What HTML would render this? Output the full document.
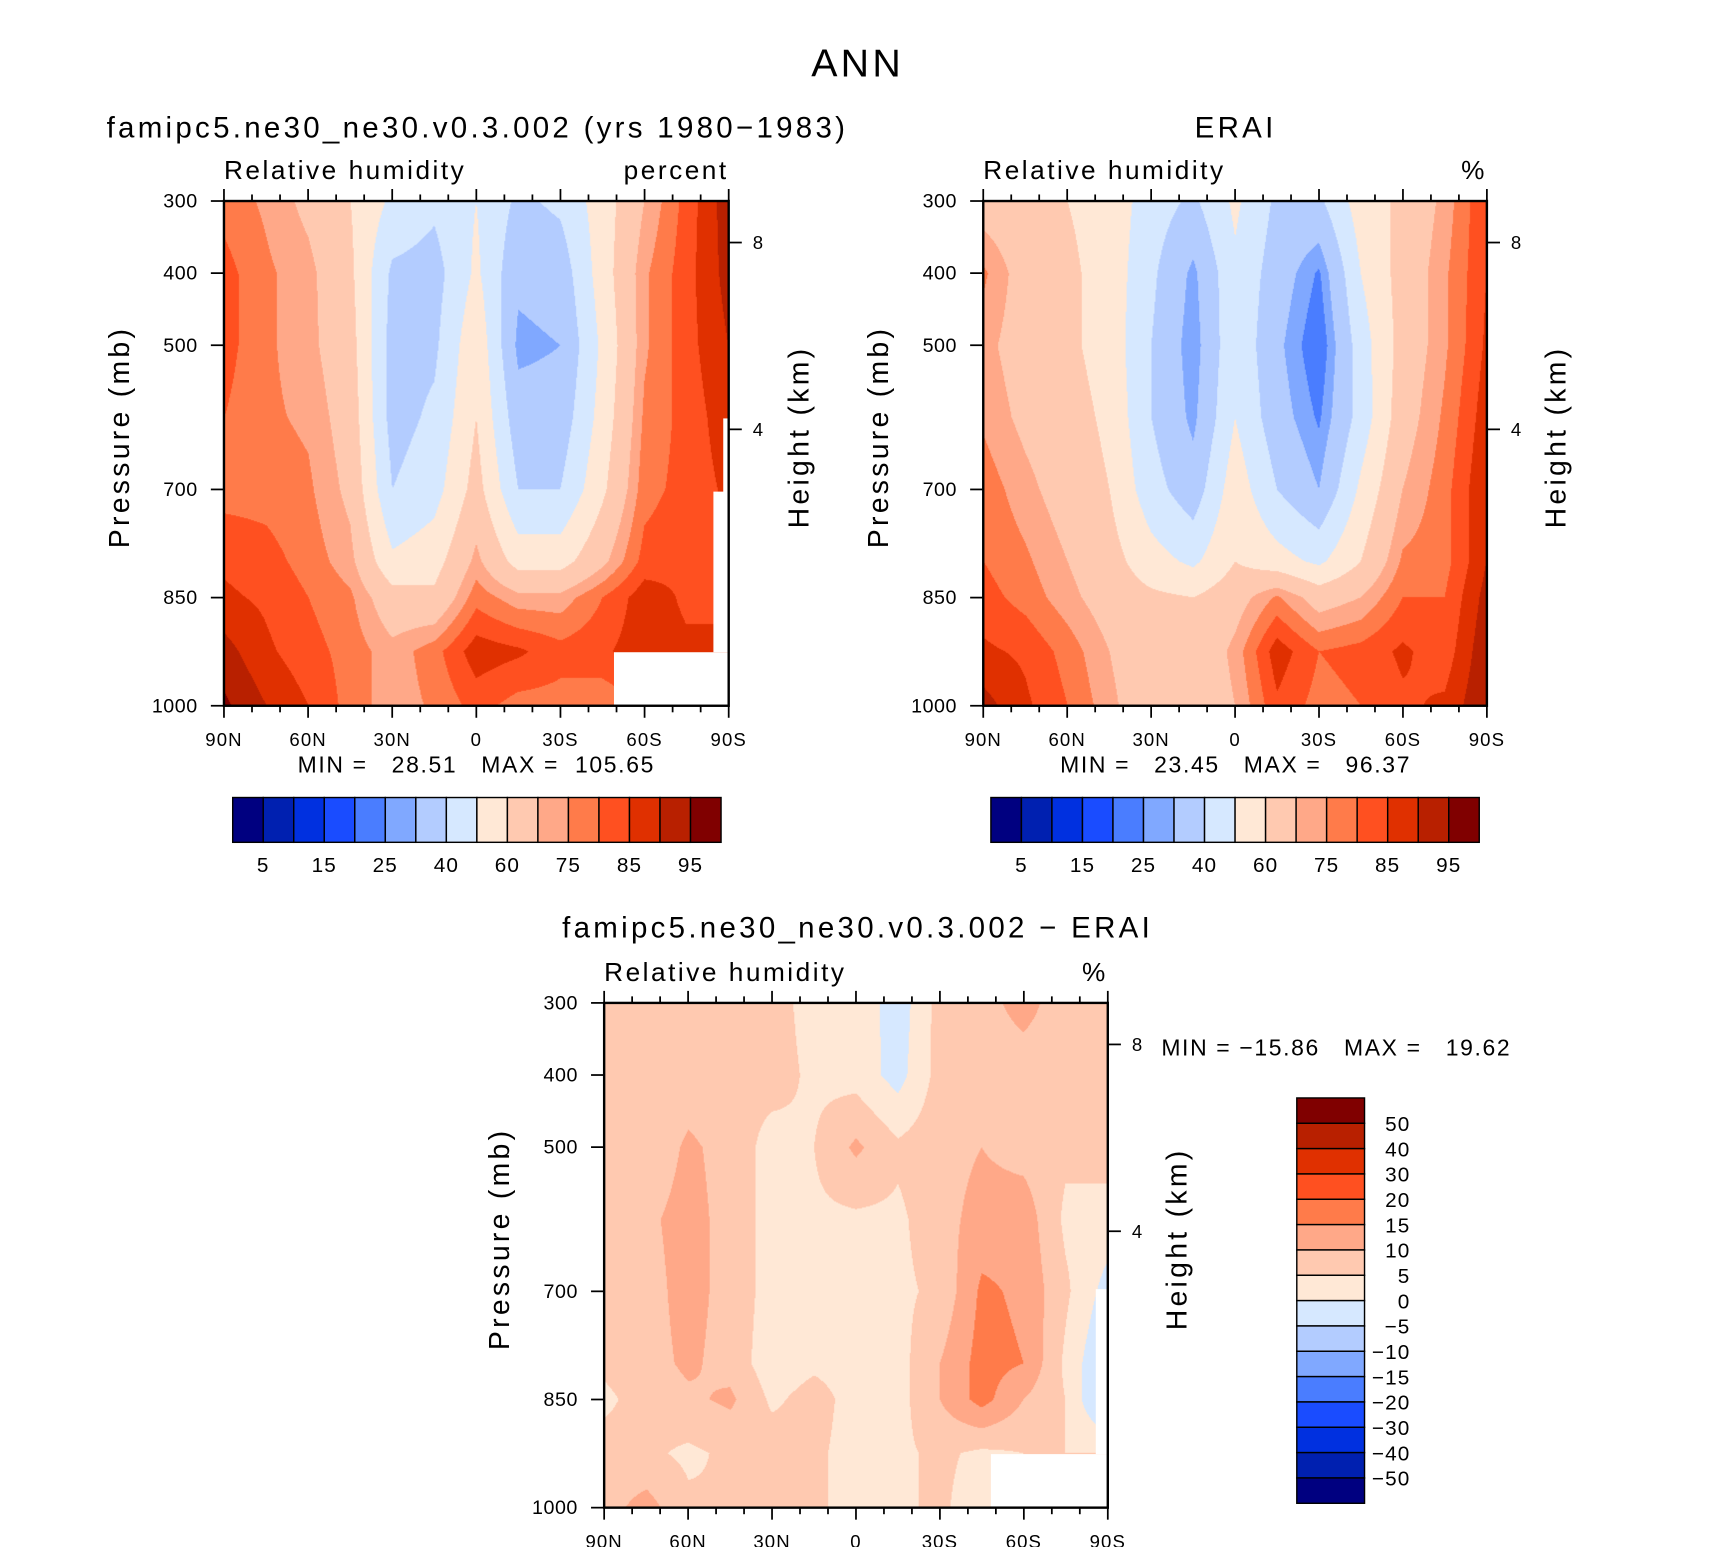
<!DOCTYPE html>
<html><head><meta charset="utf-8">
<style>
html,body{margin:0;padding:0;background:#fff;}
#wrap{position:absolute;left:0;top:0;width:1560px;height:1416px;transform:scale(1.0925,1.0925);transform-origin:0 0;}
canvas{position:absolute;}
svg{position:absolute;left:0;top:0;}
text{font-family:"Liberation Sans",sans-serif;fill:#000;white-space:pre;}
</style></head>
<body>
<div id="wrap">
<canvas id="c1" width="506" height="506" style="left:205px;top:184px;width:462px;height:462px"></canvas>
<canvas id="c2" width="506" height="506" style="left:900px;top:184px;width:461px;height:462px"></canvas>
<canvas id="c3" width="506" height="506" style="left:553px;top:918px;width:461px;height:462px"></canvas>
<svg id="s" width="1560" height="1416" viewBox="0 0 1560 1416"></svg>
</div>
<script>
const lats=[90,75,60,45,30,15,0,-15,-30,-45,-60,-75,-90];
const plevs=[300,400,500,600,700,800,850,925,1000];
const modelRH=[
[78,74,68,60,48,42,50,38,42,55,70,82,93],
[82,76,72,62,38,36,52,32,34,55,74,83,92],
[82,76,72,64,36,38,58,28,30,52,74,83,90],
[80,76,74,66,36,42,60,34,34,54,76,82,88],
[78,78,76,68,40,46,64,40,40,58,78,82,86],
[84,82,78,72,52,56,72,56,56,68,82,84,84],
[86,84,80,76,64,62,78,72,72,80,88,84,84],
[92,86,82,78,72,78,88,86,82,84,88,86,86],
[96,90,85,78,72,76,82,78,78,76,80,80,80]];
const eraiRH=[
[66,64,60,56,45,38,52,38,38,55,62,72,85],
[76,66,62,56,42,28,48,35,24,50,64,74,85],
[72,66,62,56,40,26,48,32,20,45,64,74,86],
[74,68,64,58,40,28,50,34,24,44,66,76,88],
[78,72,66,60,44,34,56,40,30,52,70,78,90],
[80,76,70,64,54,48,60,54,48,60,76,78,90],
[82,78,72,66,62,60,66,76,66,70,80,80,92],
[86,84,78,70,62,62,72,88,80,82,86,82,94],
[92,86,80,72,63,62,70,84,78,80,84,86,95]];
const diffRH=[
[7,7,7,5,7,3,4,-3,7,8,12,7,6],
[7,6,7,6,7,4,3,-2,7,7,7,7,7],
[8,6,11,8,3,5,11,6,8,10,8,6,7],
[7,9,12,8,3,4,4,4,8,12,13,4,3],
[6,8,12,8,3,3,3,4,6,16,14,6,-2],
[6,8,11,8,2,4,3,3,10,17,15,4,-6],
[4,7,9,11,4,7,3,3,10,17,10,5,-8],
[7,6,4,6,8,6,3,4,6,4,5,5,5],
[8,12,6,5,7,6,3,4,6,2,5,5,5]];
const rhLevels=[5,10,15,20,25,30,40,50,60,70,75,80,85,90,95];
const diffLevels=[-50,-40,-30,-20,-15,-10,-5,0,5,10,15,20,30,40,50];
const rhLabels=["5","15","25","40","60","75","85","95"];
const diffLabels=["−50","−40","−30","−20","−15","−10","−5","0","5","10","15","20","30","40","50"];
const palette=["#000080","#0020b0","#0030e0","#1a4cff","#4a7dff","#80a8ff","#b3ccff","#d6e8ff","#ffe8d6","#ffc9b0","#ffa888","#ff7b4a","#ff5020","#e03000","#b82000","#800000"];

function xScale(lat,x0,w){return x0+(90-lat)/180*w;}
function yScale(p,y0,h){return y0+(p-300)/700*h;}
function sample(grid,lat,p){
  let u=(90-lat)/15; let i=Math.min(Math.floor(u),lats.length-2); let fu=u-i;
  let j=0; while(j<plevs.length-2 && p>plevs[j+1]) j++;
  let fv=(p-plevs[j])/(plevs[j+1]-plevs[j]);
  const a=grid[j][i],b=grid[j][i+1],c=grid[j+1][i],d=grid[j+1][i+1];
  return (a*(1-fu)+b*fu)*(1-fv)+(c*(1-fu)+d*fu)*fv;
}
function bin(v,levs){let k=0;while(k<levs.length&&v>=levs[k])k++;return k;}
function drawField(id,grid,levs){
  const cv=document.getElementById(id),ctx=cv.getContext('2d');
  const W=cv.width,H=cv.height;const img=ctx.createImageData(W,H);
  const rgb=palette.map(h=>[parseInt(h.substr(1,2),16),parseInt(h.substr(3,2),16),parseInt(h.substr(5,2),16)]);
  for(let y=0;y<H;y++){const p=300+y/(H-1)*700;
    for(let x=0;x<W;x++){const lat=90-x/(W-1)*180;
      const c=rgb[bin(sample(grid,lat,p),levs)];const o=(y*W+x)*4;
      img.data[o]=c[0];img.data[o+1]=c[1];img.data[o+2]=c[2];img.data[o+3]=255;}}
  ctx.putImageData(img,0,0);
}
drawField('c1',modelRH,rhLevels);
drawField('c2',eraiRH,rhLevels);
drawField('c3',diffRH,diffLevels);

const NS="http://www.w3.org/2000/svg";const S=document.getElementById('s');
function el(tag,attrs,txt){const e=document.createElementNS(NS,tag);for(const k in attrs)e.setAttribute(k,attrs[k]);if(txt!==undefined)e.textContent=txt;S.appendChild(e);return e;}
function txt(x,y,s,size,anchor,name,rot,ls){const t=el('text',{x:x,y:y,'font-size':size,'text-anchor':anchor||'middle','letter-spacing':(ls!==undefined?ls:size*0.11)},s);
  if(rot)t.setAttribute('transform','rotate(-90 '+x+' '+y+')');
  
  return t;}

const xLabels=["90N","60N","30N","0","30S","60S","90S"];
const pLabels=[300,400,500,700,850,1000];
function panel(x0,y0,w,h,pre,unit,ytitleX,htitleX){
  const ln=(a,b,c,d,wd)=>el('line',{x1:a,y1:b,x2:c,y2:d,stroke:'#000','stroke-width':wd||2});
  const r=el('rect',{x:x0,y:y0,width:w,height:h,fill:'none',stroke:'#000','stroke-width':2.2});
  
  
  for(let lat=90;lat>=-90;lat-=10){const x=xScale(lat,x0,w);const maj=lat%30===0;const L=maj?11:6;
    ln(x,y0,x,y0-L,1.6);ln(x,y0+h,x,y0+h+L,1.6);}
  xLabels.forEach((s,i)=>txt(x0+i*w/6,y0+h+37,s,17,'middle',pre+'-x-tick-label',false,1));
  pLabels.forEach(p=>{const y=yScale(p,y0,h);ln(x0,y,x0-12,y,1.6);txt(x0-24,y+6,String(p),18,'end',pre+'-y-tick-label',false,0.5);});
  [[8,38],[4,209]].forEach(a=>{const y=y0+a[1]*h/462;ln(x0+w,y,x0+w+12,y,1.6);txt(x0+w+22,y+6,String(a[0]),17,'start',pre+'-height-tick-label');});
  txt(x0,y0-20,"Relative humidity",24,'start',pre+'-variable-label',false,2.3);
  txt(x0+w,y0-20,unit,24,'end',pre+'-unit-label',false,2.3);
  txt(ytitleX,y0+h/2-15,"Pressure (mb)",26,'middle',pre+'-y-axis-title',true,3);
  txt(htitleX,y0+h/2-15,"Height (km)",26,'middle',pre+'-height-axis-title',true,3);
}
[[562,597,105,49],[653,450,14,147],[662,383,5,70],[907,1331,107,49],[1003,1180,11,151]].forEach(m=>{
  const r=el('rect',{x:m[0],y:m[1],width:m[2],height:m[3],fill:'#fff'});
  
  });
panel(205,184,462,462,'model','percent',118,740);
panel(900,184,461,462,'erai','%',813,1433);
panel(553,918,461,462,'diff','%',466,1086);

txt(785,70,"ANN",36,'middle','figure-title',false,3);
txt(437,126,"famipc5.ne30_ne30.v0.3.002 (yrs 1980−1983)",27,'middle','model-panel-title',false,3);
txt(1131,126,"ERAI",27,'middle','erai-panel-title',false,3);
txt(785,858,"famipc5.ne30_ne30.v0.3.002 − ERAI",27,'middle','diff-panel-title',false,3);
txt(436,707,"MIN =   28.51   MAX =  105.65",21,'middle','model-min-max',false,1.5);
txt(1131,707,"MIN =   23.45   MAX =   96.37",21,'middle','erai-min-max',false,1.5);
txt(1063,966,"MIN = −15.86   MAX =   19.62",21,'start','diff-min-max',false,1.5);

function hbar(x0,y0,w,h,pre){const bw=w/16;
  palette.forEach((c,i)=>{const r=el('rect',{x:x0+i*bw,y:y0,width:bw,height:h,fill:c,stroke:'#000','stroke-width':1.3});
    
    });
  rhLabels.forEach((s,k)=>txt(x0+(2*k+1)*bw,y0+h+27,s,19,'middle',pre+'-colorbar-label',false,1));}
hbar(213,730,447,41,'model');hbar(907,730,447,41,'erai');
(function(){const x0=1187,y0=1005,w=62,h=371,bh=h/16;
  palette.slice().reverse().forEach((c,i)=>{const r=el('rect',{x:x0,y:y0+i*bh,width:w,height:bh,fill:c,stroke:'#000','stroke-width':1.3});
    
    });
  diffLabels.slice().reverse().forEach((s,k)=>txt(x0+w+42,y0+(k+1)*bh+7,s,19,'end','diff-colorbar-label',false,1));
})();
</script>
</body></html>
